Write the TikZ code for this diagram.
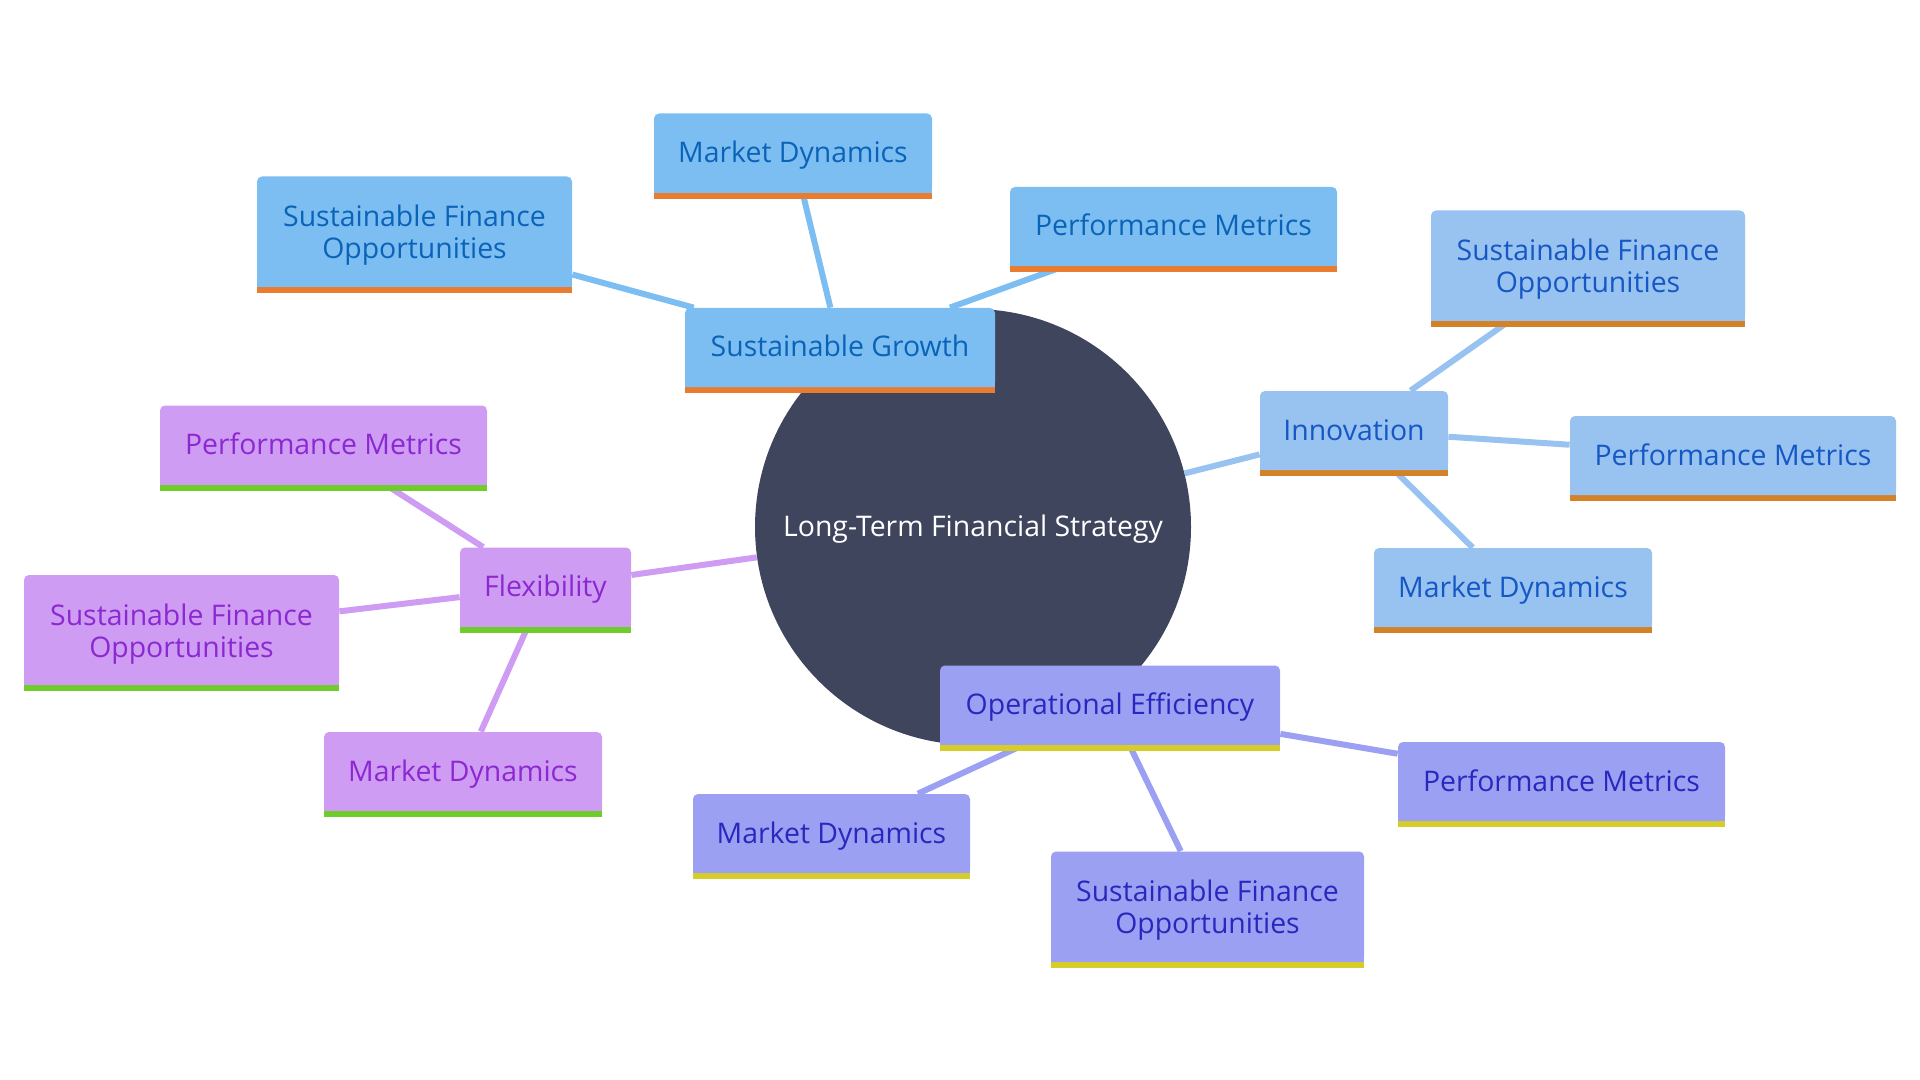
\documentclass[tikz,border=0pt]{standalone}
\usepackage{fontspec}
\setmainfont{Open Sans}
\usetikzlibrary{backgrounds}
\definecolor{rootfill}{HTML}{40455E}
\definecolor{sgfill}{HTML}{7CBEF2}
\definecolor{sgtext}{HTML}{0B63B8}
\definecolor{sgbar}{HTML}{E87D32}
\definecolor{innfill}{HTML}{98C2F0}
\definecolor{inntext}{HTML}{1557C5}
\definecolor{innbar}{HTML}{D48228}
\definecolor{flexfill}{HTML}{CE9CF2}
\definecolor{flextext}{HTML}{8C28D2}
\definecolor{flexbar}{HTML}{6ECD28}
\definecolor{oefill}{HTML}{9BA0F2}
\definecolor{oetext}{HTML}{2828BE}
\definecolor{oebar}{HTML}{D7CD28}
\tikzset{
	leaf/.style={rectangle, rounded corners=2.5pt, inner sep=0pt,
		minimum height=39.5pt, text height=12.5pt, text depth=3pt,
		align=center, font=\fontsize{14.2}{16}\selectfont},
	twoline/.style={minimum height=55pt, text height=30.8pt, text depth=3.4pt},
	bar/.style 2 args={append after command={\pgfextra{
		\fill[#1, sharp corners] ([yshift=3pt]\tikzlastnode.south west) rectangle (\tikzlastnode.south east);
		\fill[#2, sharp corners] (\tikzlastnode.south west) rectangle ([yshift=-3pt]\tikzlastnode.south east);}}},
	sg/.style={leaf, fill=sgfill, text=sgtext, bar={sgfill}{sgbar}},
	inn/.style={leaf, fill=innfill, text=inntext, bar={innfill}{innbar}},
	flx/.style={leaf, fill=flexfill, text=flextext, bar={flexfill}{flexbar}},
	oe/.style={leaf, fill=oefill, text=oetext, bar={oefill}{oebar}},
	link/.style={line width=3pt}
}
\begin{document}
\begin{tikzpicture}[x=0.5pt, y=-0.5pt]
\useasboundingbox (0,0) rectangle (1920,1080);
\node[circle, fill=rootfill, text=white, minimum size=218pt, inner sep=0pt,
	text height=12pt, text depth=3pt, font=\fontsize{14.2}{16}\selectfont] (root) at (973,527) {Long-Term Financial Strategy};
% Sustainable Growth
\node[sg, minimum width=155pt] (growth) at (840,347.5) {Sustainable Growth};
\node[sg, minimum width=139pt] (growthmd) at (793,153) {Market Dynamics};
\node[sg, minimum width=163.5pt] (growthpm) at (1173.5,226.5) {Performance Metrics};
\node[sg, twoline, minimum width=157.5pt] (growthsfo) at (414.5,231.5) {Sustainable Finance\\Opportunities};
% Innovation
\node[inn, minimum width=94pt] (innov) at (1354,430.5) {Innovation};
\node[inn, minimum width=163pt] (innovpm) at (1733,455.5) {Performance Metrics};
\node[inn, minimum width=139pt] (innovmd) at (1513,587.5) {Market Dynamics};
\node[inn, twoline, minimum width=157pt] (innovsfo) at (1588,265.5) {Sustainable Finance\\Opportunities};
% Flexibility
\node[flx, minimum width=85.5pt] (flex) at (545.5,587) {Flexibility};
\node[flx, minimum width=163.5pt] (flexpm) at (323.5,445) {Performance Metrics};
\node[flx, twoline, minimum width=157.5pt] (flexsfo) at (181.5,630) {Sustainable Finance\\Opportunities};
\node[flx, minimum width=139pt] (flexmd) at (463,771.5) {Market Dynamics};
% Operational Efficiency
\node[oe, minimum width=170pt] (opeff) at (1110,705) {Operational Efficiency};
\node[oe, minimum width=138.5pt] (opeffmd) at (831.5,833.5) {Market Dynamics};
\node[oe, twoline, minimum width=156.5pt] (opeffsfo) at (1207.5,906.5) {Sustainable Finance\\Opportunities};
\node[oe, minimum width=163.5pt] (opeffpm) at (1561.5,781.5) {Performance Metrics};
\begin{scope}[on background layer]
\draw[link, sgfill] (root) -- (growth) (growth) -- (growthmd) (growth) -- (growthpm) (growth) -- (growthsfo);
\draw[link, innfill] (root) -- (innov) (innov) -- (innovpm) (innov) -- (innovmd) (innov) -- (innovsfo);
\draw[link, flexfill] (root) -- (flex) (flex) -- (flexpm) (flex) -- (flexsfo) (flex) -- (flexmd);
\draw[link, oefill] (root) -- (opeff) (opeff) -- (opeffmd) (opeff) -- (opeffsfo) (opeff) -- (opeffpm);
\end{scope}
\end{tikzpicture}
\end{document}
